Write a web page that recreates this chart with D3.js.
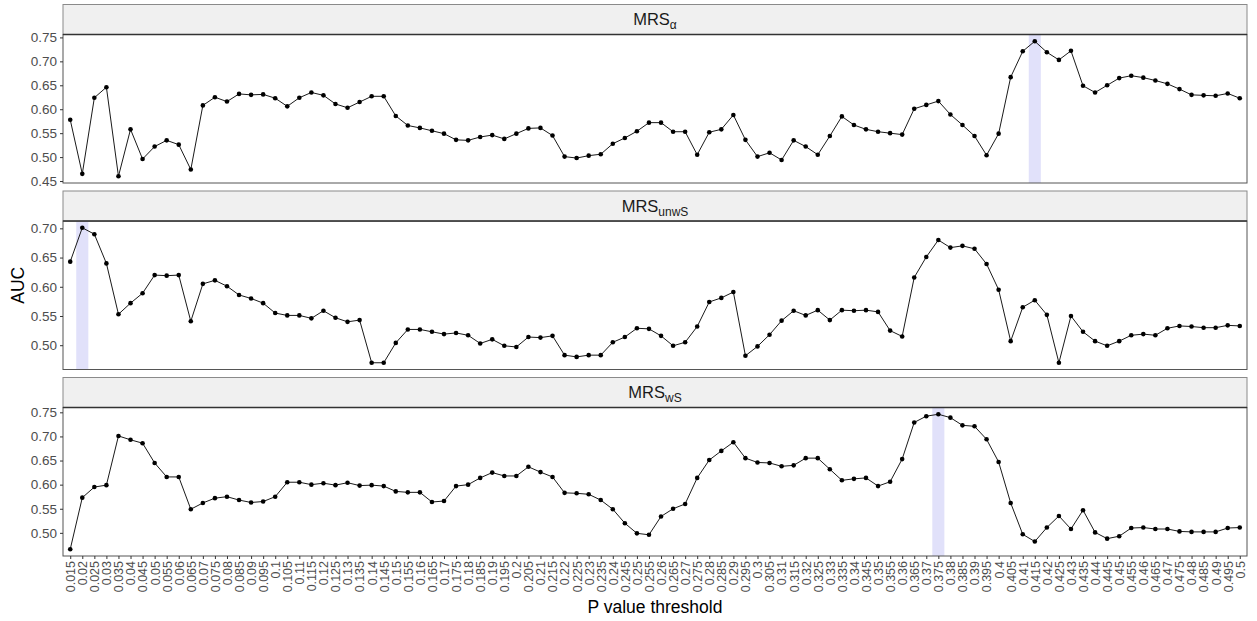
<!DOCTYPE html>
<html>
<head>
<meta charset="utf-8">
<script src="https://cdn.jsdelivr.net/npm/d3@7"></script>
<style>
  html, body { margin: 0; padding: 0; background: #ffffff; }
  svg { display: block; font-family: "Liberation Sans", Arial, sans-serif; }
</style>
</head>
<body>
<svg id="chart" width="1257" height="621"></svg>
<script>
// P value thresholds (x categories)
const thresholds = [
  "0.015","0.02","0.025","0.03","0.035","0.04","0.045","0.05","0.055","0.06",
  "0.065","0.07","0.075","0.08","0.085","0.09","0.095","0.1","0.105","0.11",
  "0.115","0.12","0.125","0.13","0.135","0.14","0.145","0.15","0.155","0.16",
  "0.165","0.17","0.175","0.18","0.185","0.19","0.195","0.2","0.205","0.21",
  "0.215","0.22","0.225","0.23","0.235","0.24","0.245","0.25","0.255","0.26",
  "0.265","0.27","0.275","0.28","0.285","0.29","0.295","0.3","0.305","0.31",
  "0.315","0.32","0.325","0.33","0.335","0.34","0.345","0.35","0.355","0.36",
  "0.365","0.37","0.375","0.38","0.385","0.39","0.395","0.4","0.405","0.41",
  "0.415","0.42","0.425","0.43","0.435","0.44","0.445","0.45","0.455","0.46",
  "0.465","0.47","0.475","0.48","0.485","0.49","0.495","0.5"
];

// AUC per threshold, one array per score
const aucAlpha = [
  0.578,0.465,0.624,0.646,0.460,0.558,0.496,0.522,0.535,0.526,
  0.474,0.608,0.625,0.616,0.632,0.630,0.631,0.623,0.606,0.624,
  0.635,0.629,0.611,0.603,0.615,0.627,0.627,0.586,0.566,0.561,
  0.555,0.549,0.536,0.535,0.542,0.546,0.538,0.549,0.560,0.561,
  0.545,0.501,0.498,0.503,0.506,0.528,0.540,0.554,0.572,0.572,
  0.553,0.553,0.505,0.552,0.558,0.588,0.536,0.501,0.509,0.494,
  0.535,0.522,0.505,0.544,0.585,0.567,0.558,0.553,0.550,0.547,
  0.601,0.609,0.617,0.589,0.567,0.544,0.504,0.549,0.667,0.721,
  0.742,0.719,0.703,0.722,0.649,0.635,0.650,0.665,0.670,0.666,
  0.660,0.653,0.642,0.630,0.629,0.628,0.633,0.623
];

const aucUnwS = [
  0.643,0.701,0.690,0.640,0.553,0.572,0.589,0.620,0.619,0.620,
  0.541,0.605,0.611,0.601,0.586,0.580,0.572,0.555,0.551,0.551,
  0.546,0.559,0.547,0.540,0.543,0.470,0.470,0.504,0.527,0.527,
  0.523,0.519,0.521,0.517,0.503,0.510,0.499,0.497,0.514,0.513,
  0.516,0.483,0.480,0.483,0.483,0.505,0.514,0.529,0.528,0.516,
  0.499,0.505,0.532,0.574,0.581,0.591,0.482,0.498,0.518,0.542,
  0.559,0.551,0.560,0.543,0.560,0.559,0.560,0.557,0.525,0.515,
  0.616,0.651,0.680,0.667,0.670,0.665,0.639,0.595,0.507,0.565,
  0.577,0.552,0.470,0.550,0.523,0.507,0.499,0.507,0.517,0.519,
  0.517,0.529,0.533,0.532,0.530,0.530,0.534,0.533
];

const aucWS = [
  0.466,0.573,0.595,0.599,0.701,0.693,0.686,0.645,0.616,0.616,
  0.549,0.562,0.572,0.575,0.568,0.563,0.565,0.575,0.605,0.605,
  0.600,0.603,0.599,0.604,0.598,0.599,0.597,0.586,0.584,0.584,
  0.564,0.566,0.597,0.600,0.614,0.625,0.618,0.618,0.637,0.626,
  0.616,0.583,0.582,0.580,0.568,0.549,0.520,0.499,0.496,0.534,
  0.550,0.560,0.614,0.651,0.670,0.688,0.655,0.646,0.645,0.638,
  0.640,0.655,0.655,0.632,0.609,0.612,0.614,0.597,0.606,0.653,
  0.729,0.742,0.746,0.739,0.723,0.721,0.694,0.647,0.562,0.497,
  0.482,0.511,0.535,0.508,0.547,0.501,0.488,0.493,0.510,0.511,
  0.508,0.508,0.503,0.502,0.502,0.502,0.510,0.511
];

// Facet definitions: label base + subscript, values
const facetSubscripts = ["\u03b1", "unwS", "wS"];
const facetValues = [aucAlpha, aucUnwS, aucWS];

// Candidate y tick values (shown when inside a panel's range)
const yTickValues = [0.45, 0.50, 0.55, 0.60, 0.65, 0.70, 0.75];

// ---- layout ----
const svg = d3.select("#chart");
const left = 63, right = 1247;
const stripTops = [4.5, 191, 377.5];
const stripH = 30, panelH = 148.5;

const x = d3.scalePoint()
  .domain(thresholds)
  .range([left, right])
  .padding(0.6);
const step = x.step();

facetValues.forEach((vals, k) => {
  const sTop = stripTops[k];
  const pTop = sTop + stripH;
  const pBot = pTop + panelH;

  const [lo, hi] = d3.extent(vals);
  const pad = (hi - lo) * 0.05;
  const y = d3.scaleLinear().domain([lo - pad, hi + pad]).range([pBot, pTop]);

  const g = svg.append("g");

  // panel background
  g.append("rect")
    .attr("x", left).attr("y", pTop)
    .attr("width", right - left).attr("height", panelH)
    .attr("fill", "#ffffff");

  // highlight at the best threshold
  const best = d3.maxIndex(vals);
  g.append("rect")
    .attr("x", x(thresholds[best]) - step / 2)
    .attr("y", pTop)
    .attr("width", step)
    .attr("height", panelH)
    .attr("fill", "#e1e1fa");

  // line + points
  const data = thresholds.map((t, i) => ({ t, v: vals[i] }));
  g.append("path")
    .datum(data)
    .attr("fill", "none")
    .attr("stroke", "#1a1a1a")
    .attr("stroke-width", 1)
    .attr("d", d3.line().x(d => x(d.t)).y(d => y(d.v)));

  g.selectAll("circle")
    .data(data)
    .join("circle")
    .attr("cx", d => x(d.t))
    .attr("cy", d => y(d.v))
    .attr("r", 2.3)
    .attr("fill", "#000000");

  // panel border
  g.append("rect")
    .attr("x", left).attr("y", pTop)
    .attr("width", right - left).attr("height", panelH)
    .attr("fill", "none")
    .attr("stroke", "#555555")
    .attr("stroke-width", 1);

  // strip
  g.append("rect")
    .attr("x", left).attr("y", sTop)
    .attr("width", right - left).attr("height", stripH)
    .attr("fill", "#f0f0f0")
    .attr("stroke", "#8a8a8a")
    .attr("stroke-width", 1);
  g.append("line")
    .attr("x1", left).attr("x2", right)
    .attr("y1", pTop).attr("y2", pTop)
    .attr("stroke", "#333333")
    .attr("stroke-width", 1.6);

  const label = g.append("text")
    .attr("x", (left + right) / 2)
    .attr("y", sTop + 20.5)
    .attr("text-anchor", "middle")
    .attr("font-size", 16.5)
    .attr("fill", "#1a1a1a");
  label.append("tspan").text("MRS");
  label.append("tspan")
    .attr("font-size", 12)
    .attr("dy", 4)
    .text(facetSubscripts[k]);

  // y axis
  const [d0, d1] = y.domain();
  const yAxis = d3.axisLeft(y)
    .tickValues(yTickValues.filter(v => v >= d0 && v <= d1))
    .tickFormat(d3.format(".2f"))
    .tickSize(3)
    .tickPadding(3);
  const ya = g.append("g")
    .attr("transform", `translate(${left},0)`)
    .call(yAxis);
  ya.select(".domain").remove();
  ya.selectAll(".tick line").attr("stroke", "#333333");
  ya.selectAll(".tick text")
    .attr("font-size", 13.5)
    .attr("fill", "#4d4d4d")
    .attr("font-family", "Liberation Sans, Arial, sans-serif");

  // x axis on the bottom panel
  if (k === facetValues.length - 1) {
    const xa = g.append("g")
      .attr("transform", `translate(0,${pBot})`)
      .call(d3.axisBottom(x).tickSize(3).tickPadding(2));
    xa.select(".domain").remove();
    xa.selectAll(".tick line").attr("stroke", "#333333");
    xa.selectAll(".tick text")
      .attr("font-size", 12.5)
      .attr("fill", "#4d4d4d")
      .attr("font-family", "Liberation Sans, Arial, sans-serif")
      .attr("text-anchor", "end")
      .attr("dy", "0.35em")
      .attr("transform", "translate(0,5) rotate(-90)")
      .attr("x", 0).attr("y", 0);
  }
});

// axis titles
svg.append("text")
  .attr("transform", `translate(24,${(stripTops[0] + stripTops[2] + stripH + panelH) / 2 + 5}) rotate(-90)`)
  .attr("text-anchor", "middle")
  .attr("font-size", 17.5)
  .attr("fill", "#000000")
  .text("AUC");

svg.append("text")
  .attr("x", (left + right) / 2)
  .attr("y", 613)
  .attr("text-anchor", "middle")
  .attr("font-size", 17.5)
  .attr("fill", "#000000")
  .text("P value threshold");
</script>
</body>
</html>
